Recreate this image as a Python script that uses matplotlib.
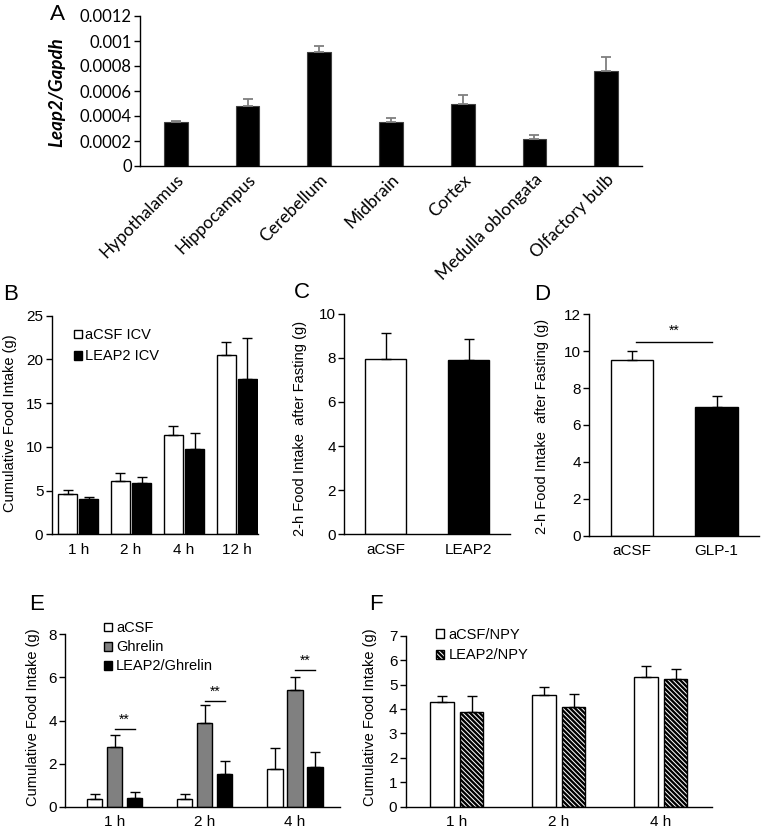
import matplotlib
matplotlib.use('Agg')
import matplotlib.pyplot as plt
import numpy as np

plt.rcParams['font.family'] = ['Liberation Sans', 'DejaVu Sans']
plt.rcParams['hatch.linewidth'] = 1.7

# ---- data ----
regions = ['Hypothalamus', 'Hippocampus', 'Cerebellum', 'Midbrain', 'Cortex',
           'Medulla oblongata', 'Olfactory bulb']
leap2_mean = [0.00035, 0.00048, 0.000915, 0.00035, 0.000496, 0.000213, 0.00076]
leap2_err = [0.000007, 0.000059, 0.000045, 0.000034, 0.000074, 0.000032, 0.00011]

b_times = ['1 h', '2 h', '4 h', '12 h']
b_acsf = [4.65, 6.14, 11.4, 20.5]
b_acsf_err = [0.42, 0.86, 1.0, 1.45]
b_leap2 = [4.04, 5.9, 9.8, 17.76]
b_leap2_err = [0.26, 0.6, 1.8, 4.74]

c_groups = ['aCSF', 'LEAP2']
c_mean = [7.95, 7.92]
c_err = [1.17, 0.92]

d_groups = ['aCSF', 'GLP-1']
d_mean = [9.54, 6.96]
d_err = [0.47, 0.59]

e_times = ['1 h', '2 h', '4 h']
e_acsf = [0.34, 0.34, 1.73]
e_acsf_err = [0.26, 0.26, 1.01]
e_ghrelin = [2.79, 3.87, 5.4]
e_ghrelin_err = [0.54, 0.85, 0.62]
e_leap2 = [0.40, 1.5, 1.84]
e_leap2_err = [0.27, 0.64, 0.7]

f_times = ['1 h', '2 h', '4 h']
f_acsf = [4.30, 4.56, 5.31]
f_acsf_err = [0.22, 0.35, 0.47]
f_leap2 = [3.86, 4.09, 5.23]
f_leap2_err = [0.66, 0.52, 0.39]

W, H = 762, 832
fig = plt.figure(figsize=(W / 100, H / 100), dpi=100)


def axes_px(left, top, right, bottom):
    return fig.add_axes([left / W, 1 - bottom / H, (right - left) / W, (bottom - top) / H])


def txt(x, y, s, **kw):
    fig.text(x / W, 1 - y / H, s, **kw)


def style(ax, fs=11):
    for s in ['top', 'right']:
        ax.spines[s].set_visible(False)
    for s in ['left', 'bottom']:
        ax.spines[s].set_linewidth(1.0)
    ax.tick_params(axis='y', length=4, width=1, labelsize=fs, pad=2)
    ax.tick_params(axis='x', length=0, labelsize=fs, pad=6)


ebk = dict(ecolor='black', elinewidth=1.0, capsize=3.5, capthick=1.0)

# ---- A ----
axA = axes_px(140, 16, 642, 166)
x = np.arange(len(regions))
axA.bar(x, leap2_mean, width=0.33, color='black', edgecolor='#404040', linewidth=0.8)
axA.errorbar(x, leap2_mean, yerr=[np.zeros(len(x)), leap2_err], fmt='none',
             ecolor='#7f7f7f', elinewidth=1.3, capsize=3.5, capthick=1.3)
axA.set_xlim(-0.5, 6.5)
axA.set_ylim(0, 0.0012)
axA.set_yticks([0, 0.0002, 0.0004, 0.0006, 0.0008, 0.001, 0.0012])
axA.set_yticklabels(['0', '0.0002', '0.0004', '0.0006', '0.0008', '0.001', '0.0012'],
                    family='Lato')
style(axA, 12)
axA.set_xticks(x)
axA.set_xticklabels(regions, rotation=45, ha='right', rotation_mode='anchor',
                    family='Lato', fontsize=12.5)
axA.tick_params(axis='x', pad=4)
txt(57, 92, 'Leap2/Gapdh', rotation=90, ha='center', va='center',
    family='Lato', style='italic', fontweight='bold', fontsize=13.5)
txt(57, 14, 'A', ha='center', va='center', fontsize=16, family='Lato')

# ---- B ----
axB = axes_px(51.7, 315.7, 258, 534.3)
xb = np.arange(len(b_times))
bw = 0.36
axB.bar(xb - 0.2, b_acsf, width=bw, color='white', edgecolor='black', linewidth=1.0,
        label='aCSF ICV')
axB.bar(xb + 0.2, b_leap2, width=bw, color='black', edgecolor='black', linewidth=1.0,
        label='LEAP2 ICV')
axB.errorbar(xb - 0.2, b_acsf, yerr=[np.zeros(4), b_acsf_err], fmt='none', **ebk)
axB.errorbar(xb + 0.2, b_leap2, yerr=[np.zeros(4), b_leap2_err], fmt='none', **ebk)
axB.set_xlim(-0.5, 3.4)
axB.set_ylim(0, 25)
axB.set_yticks([0, 5, 10, 15, 20, 25])
axB.set_xticks(xb)
axB.set_xticklabels(b_times)
style(axB)
axB.legend(loc='upper left', bbox_to_anchor=(0.08, 0.97), frameon=False, fontsize=10.5,
           handlelength=0.55, handleheight=0.55, handletextpad=0.2, labelspacing=0.5,
           borderaxespad=0)
txt(10, 423, 'Cumulative Food Intake (g)', rotation=90, ha='center', va='center',
    fontsize=10.5)
txt(11, 295, 'B', ha='center', va='center', fontsize=16)

# ---- C ----
axC = axes_px(344.3, 313.7, 510, 534.3)
xc = np.arange(2)
axC.bar(xc, c_mean, width=0.49, color=['white', 'black'], edgecolor='black', linewidth=1.0)
axC.errorbar(xc, c_mean, yerr=[np.zeros(2), c_err], fmt='none', **ebk)
axC.set_xlim(-0.5, 1.5)
axC.set_ylim(0, 10)
axC.set_yticks([0, 2, 4, 6, 8, 10])
axC.set_xticks(xc)
axC.set_xticklabels(c_groups)
style(axC)
txt(300, 428, '2-h Food Intake  after Fasting (g)', rotation=90, ha='center',
    va='center', fontsize=10.5)
txt(302, 293, 'C', ha='center', va='center', fontsize=16)

# ---- D ----
axD = axes_px(589.3, 314.3, 759, 535.7)
xd = np.arange(2)
axD.bar(xd, d_mean, width=0.5, color=['white', 'black'], edgecolor='black', linewidth=1.0)
axD.errorbar(xd, d_mean, yerr=[np.zeros(2), d_err], fmt='none', **ebk)
axD.plot([0.05, 0.945], [10.5, 10.5], color='black', lw=1.0)
axD.text(0.5, 10.75, '**', ha='center', va='bottom', fontsize=10)
axD.set_xlim(-0.5, 1.5)
axD.set_ylim(0, 12)
axD.set_yticks([0, 2, 4, 6, 8, 10, 12])
axD.set_xticks(xd)
axD.set_xticklabels(d_groups)
style(axD)
txt(542, 426, '2-h Food Intake  after Fasting (g)', rotation=90, ha='center',
    va='center', fontsize=10.5)
txt(542, 295, 'D', ha='center', va='center', fontsize=16)

# ---- E ----
axE = axes_px(65, 634.3, 340, 806.7)
xe = np.arange(3)
off, ew = 0.222, 0.17
axE.bar(xe - off, e_acsf, width=ew, color='white', edgecolor='black', linewidth=1.0,
        label='aCSF')
axE.bar(xe, e_ghrelin, width=ew, color='#808080', edgecolor='black', linewidth=1.0,
        label='Ghrelin')
axE.bar(xe + off, e_leap2, width=ew, color='black', edgecolor='black', linewidth=1.0,
        label='LEAP2/Ghrelin')
axE.errorbar(xe - off, e_acsf, yerr=[np.zeros(3), e_acsf_err], fmt='none', **ebk)
axE.errorbar(xe, e_ghrelin, yerr=[np.zeros(3), e_ghrelin_err], fmt='none', **ebk)
axE.errorbar(xe + off, e_leap2, yerr=[np.zeros(3), e_leap2_err], fmt='none', **ebk)
for i, yy in zip(xe, [3.62, 4.92, 6.35]):
    axE.plot([i, i + off], [yy, yy], color='black', lw=1.0)
    axE.text(i + off / 2, yy + 0.1, '**', ha='center', va='bottom', fontsize=10)
axE.set_xlim(-0.55, 2.5)
axE.set_ylim(0, 8)
axE.set_yticks([0, 2, 4, 6, 8])
axE.set_xticks(xe)
axE.set_xticklabels(e_times)
style(axE)
axE.legend(loc='upper left', bbox_to_anchor=(0.12, 1.11), frameon=False, fontsize=10.5,
           handlelength=0.55, handleheight=0.55, handletextpad=0.3, labelspacing=0.35,
           borderaxespad=0)
txt(33, 717, 'Cumulative Food Intake (g)', rotation=90, ha='center', va='center',
    fontsize=10.5)
txt(37, 605, 'E', ha='center', va='center', fontsize=16)

# ---- F ----
axF = axes_px(405.7, 635.7, 712, 806.7)
xf = np.arange(3)
foff, fw = 0.145, 0.23
axF.bar(xf - foff, f_acsf, width=fw, color='white', edgecolor='black', linewidth=1.0,
        label='aCSF/NPY')
axF.bar(xf + foff, f_leap2, width=fw, color='white', edgecolor='black', linewidth=1.0,
        hatch='\\' * 7, label='LEAP2/NPY')
axF.errorbar(xf - foff, f_acsf, yerr=[np.zeros(3), f_acsf_err], fmt='none', **ebk)
axF.errorbar(xf + foff, f_leap2, yerr=[np.zeros(3), f_leap2_err], fmt='none', **ebk)
axF.set_xlim(-0.5, 2.5)
axF.set_ylim(0, 7)
axF.set_yticks(range(8))
axF.set_xticks(xf)
axF.set_xticklabels(f_times)
style(axF)
axF.legend(loc='upper left', bbox_to_anchor=(0.08, 1.08), frameon=False, fontsize=10.5,
           handlelength=0.55, handleheight=0.55, handletextpad=0.3, labelspacing=0.45,
           borderaxespad=0)
txt(370, 717, 'Cumulative Food Intake (g)', rotation=90, ha='center', va='center',
    fontsize=10.5)
txt(376, 605, 'F', ha='center', va='center', fontsize=16)

fig.savefig('out.png', dpi=100)
